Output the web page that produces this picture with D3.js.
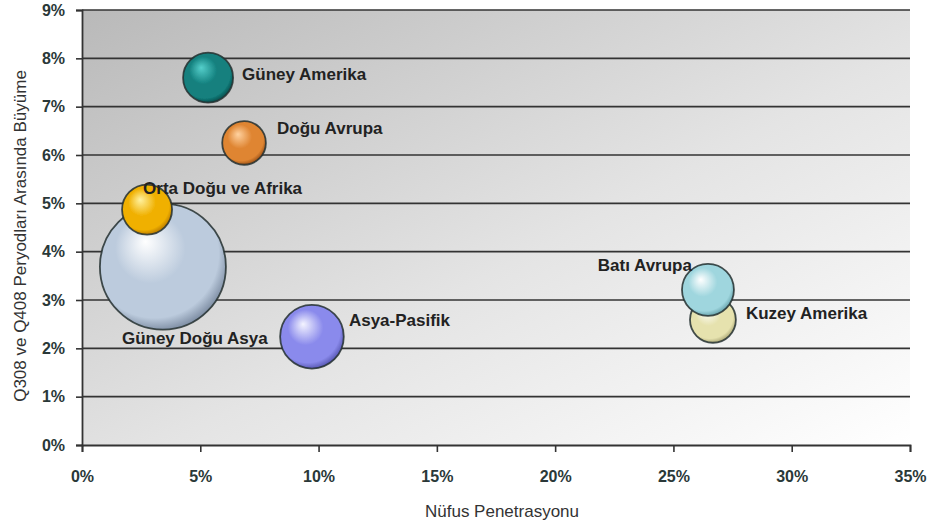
<!DOCTYPE html>
<html>
<head>
<meta charset="utf-8">
<script src="https://cdn.jsdelivr.net/npm/d3@7"></script>
<style>
  html, body { margin: 0; padding: 0; background: #fff; }
  svg { display: block; }
</style>
</head>
<body>
<svg id="chart" width="936" height="531"></svg>
<script>
// Regions, penetration (x), growth (y), bubble size
const regions     = ["Güney Doğu Asya", "Orta Doğu ve Afrika", "Güney Amerika", "Doğu Avrupa", "Asya-Pasifik", "Kuzey Amerika", "Batı Avrupa"];
const penetration = [3.42, 2.75, 5.33, 6.85, 9.72, 26.67, 26.46];
const growth      = [3.69, 4.87, 7.60, 6.25, 2.24, 2.59, 3.21];
const bubbleSize  = [40, 6.3, 6.3, 4.8, 10.2, 5.3, 6.8];

const xTicks = [0, 5, 10, 15, 20, 25, 30, 35];
const yTicks = [0, 1, 2, 3, 4, 5, 6, 7, 8, 9];

// Sphere colours: [highlight, base, rim]
const sphereColors = {
  "Güney Doğu Asya":     ["#ffffff", "#bccbdd", "#6d7d94"],
  "Orta Doğu ve Afrika": ["#fff2a0", "#f0b000", "#a86a00"],
  "Güney Amerika":       ["#55cfcb", "#13807e", "#053d3c"],
  "Doğu Avrupa":         ["#ffd2a0", "#df8532", "#86400f"],
  "Asya-Pasifik":        ["#f4f4ff", "#8a8aec", "#4848a2"],
  "Kuzey Amerika":       ["#ffffff", "#e6e2ae", "#9a9666"],
  "Batı Avrupa":         ["#ffffff", "#9fd6de", "#58949d"]
};

// Label placement relative to the bubble centre
const labelPlacement = {
  "Güney Doğu Asya":     { dx: -41, dy: 71,  anchor: "start" },
  "Orta Doğu ve Afrika": { dx: -4,  dy: -22, anchor: "start" },
  "Güney Amerika":       { dx: 34,  dy: -4,  anchor: "start" },
  "Doğu Avrupa":         { dx: 33,  dy: -15, anchor: "start" },
  "Asya-Pasifik":        { dx: 37,  dy: -17, anchor: "start" },
  "Kuzey Amerika":       { dx: 33,  dy: -7,  anchor: "start" },
  "Batı Avrupa":         { dx: -16, dy: -25, anchor: "end" }
};

const svg = d3.select("#chart");
const margin = { left: 82, right: 26, top: 10, bottom: 86 };
const W = 936, H = 531;
const x = d3.scaleLinear().domain([0, 35]).range([margin.left, W - margin.right]);
const y = d3.scaleLinear().domain([0, 9]).range([H - margin.bottom, margin.top]);
const r = d3.scaleSqrt().domain([0, 40]).range([0, 63]);

const defs = svg.append("defs");
const bg = defs.append("linearGradient").attr("id", "plotBg")
  .attr("x1", "0%").attr("y1", "0%").attr("x2", "100%").attr("y2", "100%");
bg.append("stop").attr("offset", "0%").attr("stop-color", "#b9b9b9");
bg.append("stop").attr("offset", "55%").attr("stop-color", "#e4e4e4");
bg.append("stop").attr("offset", "100%").attr("stop-color", "#ffffff");

defs.append("filter").attr("id", "soft")
  .append("feGaussianBlur").attr("stdDeviation", 0.5);

// Plot background
svg.append("rect")
  .attr("x", x(0)).attr("y", y(9))
  .attr("width", x(35) - x(0)).attr("height", y(0) - y(9))
  .attr("fill", "url(#plotBg)");

// Horizontal gridlines
svg.append("g").selectAll("line").data(yTicks.filter(d => d > 0)).join("line")
  .attr("x1", x(0)).attr("x2", x(35))
  .attr("y1", d => y(d)).attr("y2", d => y(d))
  .attr("stroke", "#333").attr("stroke-width", 1.6);

// Axes
const xAxis = d3.axisBottom(x).tickValues(xTicks).tickFormat(d => d + "%").tickSize(7).tickPadding(19);
const yAxis = d3.axisLeft(y).tickValues(yTicks).tickFormat(d => d + "%").tickSize(6).tickPadding(11);

const gx = svg.append("g").attr("transform", `translate(0,${y(0)})`).call(xAxis);
const gy = svg.append("g").attr("transform", `translate(${x(0)},0)`).call(yAxis);
[gx, gy].forEach(g => {
  g.select(".domain").attr("stroke", "#333").attr("stroke-width", 1.8);
  g.selectAll(".tick line").attr("stroke", "#333").attr("stroke-width", 1.6);
  g.selectAll(".tick text")
    .attr("fill", "#2a3838")
    .style("font-family", "'Liberation Sans', Arial, sans-serif")
    .style("font-weight", "bold")
    .style("font-size", "16px");
});

// Spheres
const data = regions.map((name, i) => ({
  name, px: penetration[i], gy: growth[i], size: bubbleSize[i]
}));

data.forEach((d, i) => {
  const c = sphereColors[d.name];
  const g = defs.append("radialGradient").attr("id", "sph" + i)
    .attr("cx", "45%").attr("cy", "42%").attr("r", "62%")
    .attr("fx", "36%").attr("fy", "30%");
  g.append("stop").attr("offset", "0%").attr("stop-color", c[0]);
  g.append("stop").attr("offset", "45%").attr("stop-color", c[1]);
  g.append("stop").attr("offset", "82%").attr("stop-color", c[1]);
  g.append("stop").attr("offset", "100%").attr("stop-color", c[2]);
});

svg.append("g").attr("filter", "url(#soft)").selectAll("circle").data(data).join("circle")
  .attr("cx", d => x(d.px))
  .attr("cy", d => y(d.gy))
  .attr("r", d => r(d.size))
  .attr("fill", (d, i) => `url(#sph${i})`)
  .attr("stroke", "#243030").attr("stroke-opacity", 0.85).attr("stroke-width", 1.8);

// Bubble labels
svg.append("g").selectAll("text").data(data).join("text")
  .attr("x", d => x(d.px) + labelPlacement[d.name].dx)
  .attr("y", d => y(d.gy) + labelPlacement[d.name].dy)
  .attr("dy", "0.35em")
  .attr("text-anchor", d => labelPlacement[d.name].anchor)
  .attr("fill", "#222")
  .style("font-family", "'Liberation Sans', Arial, sans-serif")
  .style("font-weight", "bold")
  .style("font-size", "17px")
  .text(d => d.name);

// Axis titles
svg.append("text")
  .attr("x", 502).attr("y", 517)
  .attr("text-anchor", "middle")
  .attr("fill", "#333")
  .style("font-family", "'Liberation Sans', Arial, sans-serif")
  .style("font-size", "17px")
  .text("Nüfus Penetrasyonu");

svg.append("text")
  .attr("transform", `translate(26,236) rotate(-90)`)
  .attr("text-anchor", "middle")
  .attr("fill", "#333")
  .style("font-family", "'Liberation Sans', Arial, sans-serif")
  .style("font-size", "17px")
  .text("Q308 ve Q408 Peryodları Arasında Büyüme");
</script>
</body>
</html>
